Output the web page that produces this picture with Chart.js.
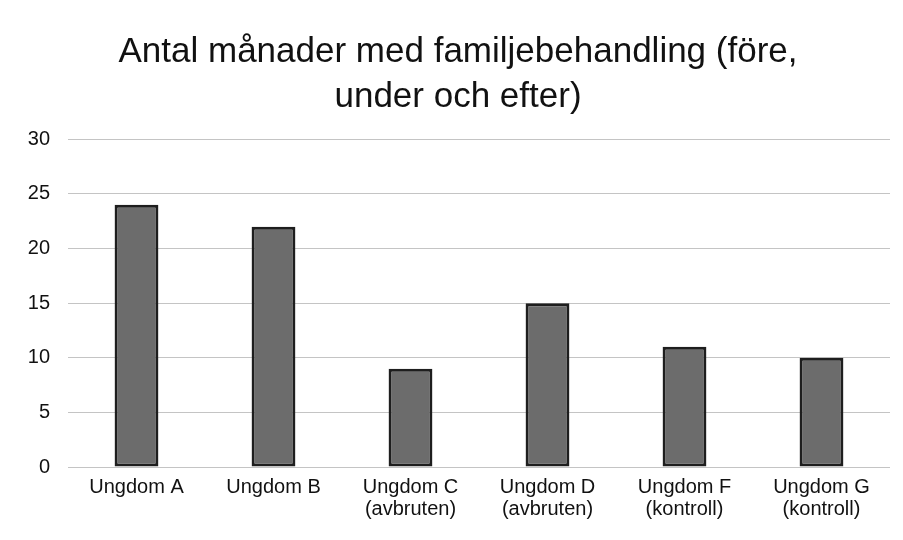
<!DOCTYPE html>
<html>
<head>
<meta charset="utf-8">
<script src="https://cdn.jsdelivr.net/npm/chart.js@4.4.0/dist/chart.umd.min.js"></script>
<style>
  html, body { margin: 0; padding: 0; background: #fff; }
  #wrap { width: 903px; height: 540px; }
</style>
</head>
<body>
<div id="wrap"><canvas id="monthsChart"></canvas></div>
<script>
const categories = [
    ['Ungdom A'],
    ['Ungdom B'],
    ['Ungdom C', '(avbruten)'],
    ['Ungdom D', '(avbruten)'],
    ['Ungdom F', '(kontroll)'],
    ['Ungdom G', '(kontroll)']
];
const months = [24, 22, 9, 15, 11, 10];
const titleLines = ['Antal månader med familjebehandling (före,', 'under och efter)'];

const ctx = document.getElementById('monthsChart').getContext('2d');

const monthsChart = new Chart(ctx, {
    type: 'bar',
    data: {
        labels: categories,
        datasets: [{
            label: 'Antal månader',
            data: months,
            backgroundColor: '#6c6c6c',
            borderColor: '#1e1e1e',
            borderWidth: 3,
            borderSkipped: false,
            barPercentage: 0.32,
            categoryPercentage: 1
        }]
    },
    options: {
        responsive: true,
        maintainAspectRatio: false,
        animation: false,
        layout: { padding: { left: 26, right: 13, top: 10, bottom: 19 } },
        plugins: {
            legend: { display: false },
            tooltip: { enabled: false },
            title: {
                display: true,
                text: titleLines,
                color: '#111',
                font: { family: 'Liberation Sans, Arial, sans-serif', size: 35, weight: 'normal', lineHeight: 1.29 },
                padding: { top: 20, bottom: 19 }
            }
        },
        scales: {
            x: {
                grid: { display: false },
                border: { display: false },
                ticks: {
                    color: '#111',
                    font: { family: 'Liberation Sans, Arial, sans-serif', size: 20, lineHeight: 1.1 },
                    maxRotation: 0,
                    autoSkip: false,
                    padding: 1
                }
            },
            y: {
                min: 0,
                max: 30,
                border: { display: false },
                grid: { color: '#c4c4c4', lineWidth: 1, drawTicks: false },
                afterFit: (axis) => { axis.width = 42; },
                ticks: {
                    stepSize: 5,
                    color: '#111',
                    font: { family: 'Liberation Sans, Arial, sans-serif', size: 20 },
                    padding: 18
                }
            }
        }
    }
});
</script>
</body>
</html>
